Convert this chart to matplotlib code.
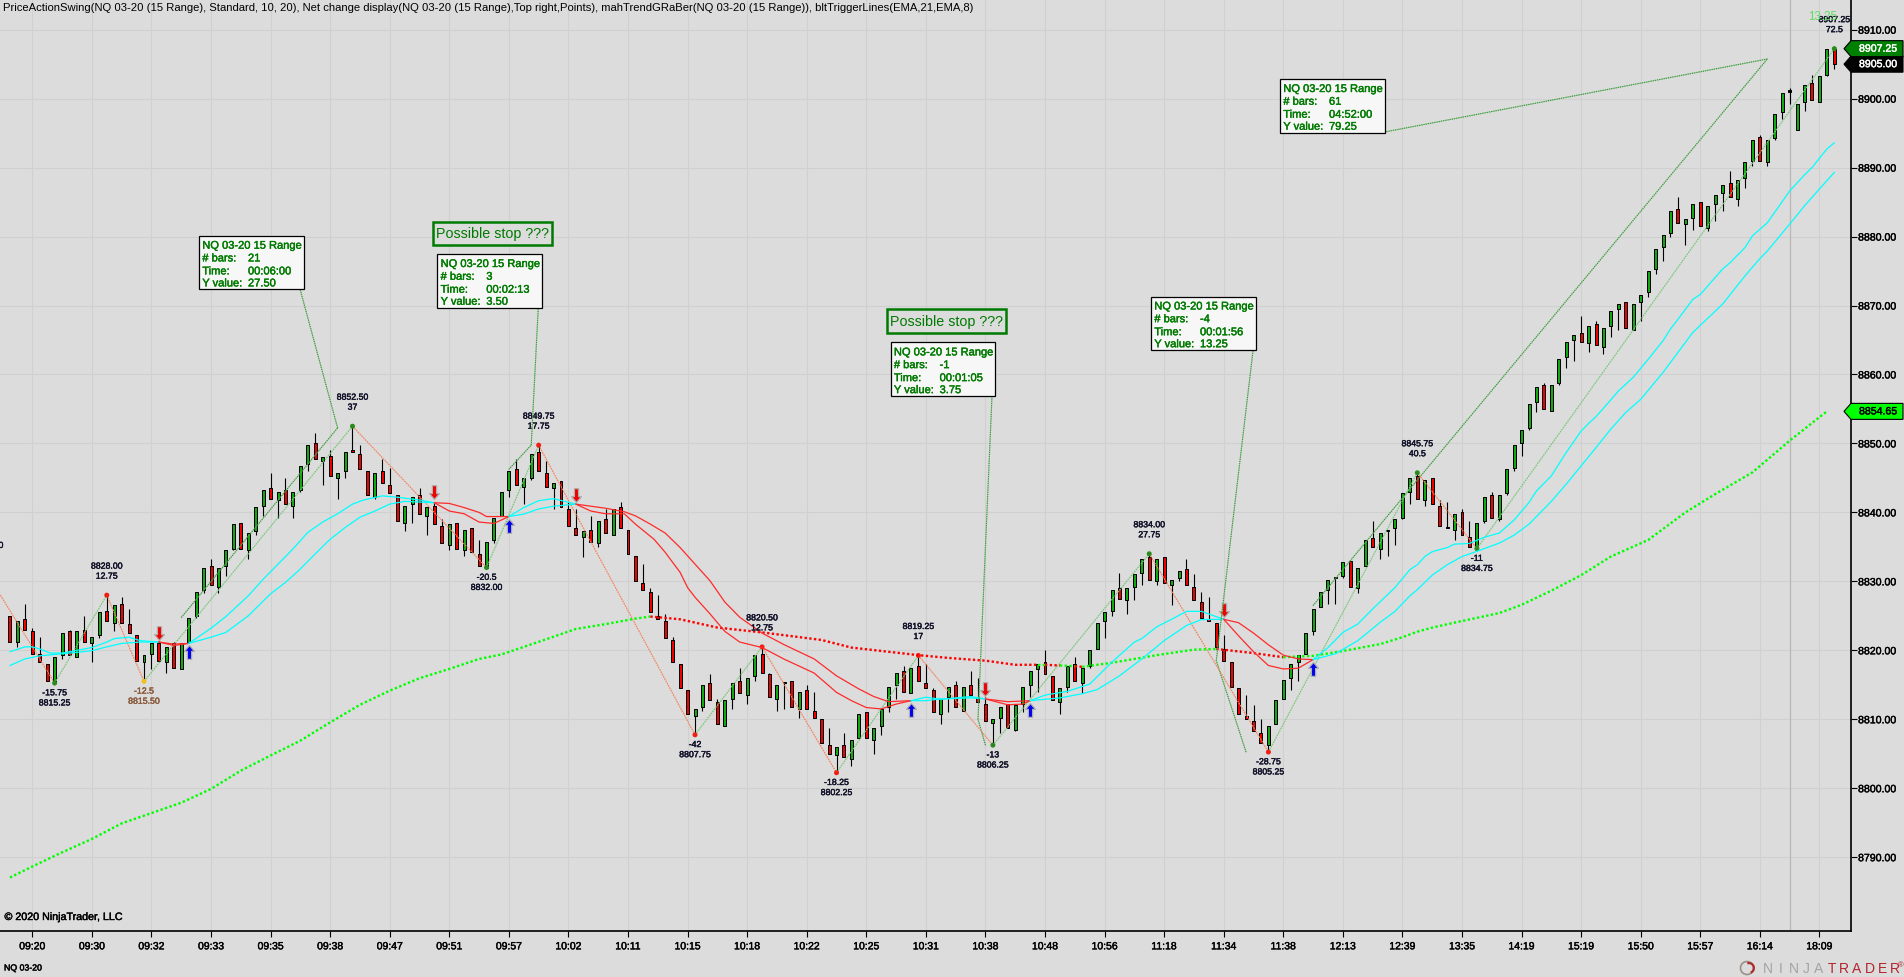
import numpy as np
import matplotlib
matplotlib.use("Agg")
import matplotlib.pyplot as plt
import matplotlib.patheffects as pe
from matplotlib.path import Path
from matplotlib.patches import Rectangle, Polygon, Circle, Wedge

plt.rcParams['font.family'] = ['Liberation Sans', 'DejaVu Sans']

# candles, one entry per range bar, first bar is -3 on the bar counter
open_prices = [
    8825, 8821.25, 8824.5, 8822.75, 8819.5, 8818, 8815.25, 8819.25, 8822.75, 8819,
    8823, 8821, 8822.25, 8825.75, 8824, 8826.75, 8823.75, 8822.25, 8818.25, 8819.5,
    8821, 8818.25, 8821, 8817.25, 8821.25, 8825, 8828.75, 8832.25, 8829.25, 8832.25,
    8834.75, 8838.5, 8834.5, 8837.25, 8841, 8843.5, 8841.75, 8843.25, 8841, 8843.25,
    8847, 8850, 8847.5, 8848.25, 8845, 8846, 8849, 8848.5, 8846, 8842.25,
    8846, 8844, 8842.5, 8838.5, 8841.25, 8842.5, 8839.5, 8841, 8838, 8835.25,
    8838.5, 8834.5, 8837.75, 8834, 8832, 8836, 8839.5, 8843.25, 8846.25, 8843.75,
    8845, 8848.75, 8845.75, 8843.5, 8844.5, 8840.5, 8837.75, 8836.5, 8837.5, 8835.5,
    8839, 8836.75, 8840.75, 8837.5, 8833.75, 8829.75, 8828.5, 8825, 8824.25, 8821.5,
    8818, 8814.25, 8810.5, 8811.75, 8815.25, 8812.5, 8809, 8813, 8815.5, 8813.5,
    8816.25, 8819.5, 8816.5, 8813, 8815.25, 8815.5, 8811.5, 8814.25, 8811.25, 8810,
    8806.25, 8804.75, 8806.25, 8804.25, 8807.25, 8811, 8807, 8809, 8811.75, 8815,
    8817, 8813.75, 8817.75, 8815.25, 8814.25, 8810.75, 8813.25, 8815, 8811.25, 8815,
    8813.25, 8812.25, 8809.5, 8810.25, 8812.25, 8808.5, 8812.25, 8815, 8817.25, 8818.25,
    8816.25, 8812.5, 8814.75, 8818, 8815.25, 8817.75, 8820.25, 8824.25, 8825.75, 8829,
    8827.25, 8829.25, 8831.25, 8833.5, 8830, 8833.5, 8829.5, 8830.5, 8831.75, 8829.25,
    8827, 8824.5, 8824, 8820.25, 8818.25, 8814.5, 8810.5, 8809.75, 8808, 8806.25,
    8809.25, 8813, 8816, 8818.25, 8819.5, 8822.75, 8826.25, 8828.75, 8830.5, 8830.75,
    8833, 8829, 8832.25, 8836.25, 8834.75, 8837.25, 8837.75, 8839.25, 8843, 8845.25,
    8841.75, 8845, 8841, 8837.75, 8837.5, 8840, 8836.5, 8835, 8838.75, 8842.5,
    8839, 8842.75, 8846.5, 8850, 8852.25, 8856, 8858.5, 8854.75, 8858.75, 8862.5,
    8865, 8866, 8864.5, 8867.25, 8864, 8867, 8869.5, 8870.5, 8866.5, 8870.5,
    8872, 8875.25, 8878.5, 8880.5, 8884, 8881.75, 8882.75, 8885, 8881.25, 8884.75,
    8886.25, 8887.75, 8885.5, 8888.5, 8891, 8894.5, 8890.75, 8894.25, 8898, 8901,
    8895.5, 8899.5, 8902.25, 8899.5, 8903.5, 8907.25,
]
high_prices = [
    8825, 8824.25, 8826.75, 8823.25, 8822, 8818, 8819, 8822.5, 8823, 8822.75,
    8825, 8822, 8825.5, 8828, 8826.5, 8827.75, 8826, 8822.25, 8819.25, 8821,
    8821.5, 8820.5, 8821.25, 8821, 8824.75, 8828.5, 8832, 8833.25, 8832, 8834.5,
    8838.25, 8838.5, 8837, 8840.75, 8843.25, 8845.75, 8843, 8845, 8843, 8846.75,
    8849.75, 8851.5, 8848, 8849, 8845.75, 8848.75, 8852.5, 8849.75, 8846, 8845.75,
    8847.75, 8846.5, 8842.5, 8841, 8842.25, 8843.5, 8840.75, 8841.5, 8839, 8838.25,
    8838.5, 8837.5, 8837.75, 8836, 8835.75, 8839.25, 8843, 8846, 8847.75, 8845,
    8848.5, 8849.75, 8847.5, 8844.25, 8844.5, 8841.5, 8840.5, 8837.25, 8839.5, 8838.75,
    8840.5, 8840.5, 8841.5, 8837.5, 8833.75, 8832.5, 8829, 8828, 8825.25, 8822,
    8818, 8814.25, 8811.5, 8815, 8816.5, 8813, 8812.75, 8815.25, 8817.5, 8816,
    8819.25, 8820.5, 8816.75, 8815, 8815.25, 8815.5, 8814, 8815, 8814, 8810,
    8808.75, 8806, 8808, 8807, 8810.75, 8811, 8808.75, 8811.5, 8814.75, 8816.75,
    8817.75, 8817.5, 8819.25, 8818, 8814.5, 8813, 8814.75, 8815.5, 8814.75, 8817,
    8816, 8813.25, 8810, 8811.75, 8812.25, 8812, 8814.75, 8817, 8818, 8820,
    8816.25, 8814.5, 8817.75, 8819, 8817.5, 8820, 8824, 8825.5, 8828.75, 8831.25,
    8829, 8831, 8833.25, 8834, 8833.25, 8833.5, 8830.25, 8831.5, 8833.25, 8831,
    8828.5, 8827.75, 8824, 8822.25, 8818.25, 8814.5, 8813.5, 8812, 8810, 8809,
    8812.75, 8815.75, 8818, 8819.25, 8822.5, 8826, 8828.5, 8830.25, 8830.5, 8832.75,
    8833, 8832, 8836, 8838.75, 8837, 8837.5, 8839, 8842.75, 8845, 8845.75,
    8844.75, 8845, 8841.75, 8841.5, 8839.75, 8840.5, 8838.75, 8838.5, 8842.25, 8843,
    8842.5, 8846.25, 8849.75, 8852, 8855.75, 8858.25, 8858.75, 8858.5, 8862.25, 8864.75,
    8865.75, 8868.5, 8867, 8867.75, 8866.75, 8869.25, 8870.25, 8870.5, 8870.25, 8871.5,
    8875, 8878.25, 8880.25, 8883.75, 8885.75, 8882.5, 8884.75, 8885, 8884.5, 8886,
    8887.5, 8889.5, 8888.25, 8890.75, 8894, 8894.75, 8894, 8897.75, 8900.75, 8901.5,
    8899.25, 8902, 8903.5, 8903.25, 8907.25, 8907.25,
]
low_prices = [
    8821.25, 8820.5, 8823, 8819.5, 8818.25, 8815.5, 8815.25, 8818.75, 8819.25, 8819,
    8821.25, 8818.25, 8821.75, 8824.25, 8822.75, 8824, 8822.5, 8818.5, 8815.5, 8817.25,
    8818.5, 8816.75, 8817.5, 8817.25, 8821.25, 8824.75, 8828.25, 8829.5, 8828.25, 8830.75,
    8834.5, 8834.75, 8833.25, 8836.75, 8839.5, 8842, 8839.25, 8841.25, 8839.25, 8843,
    8846, 8847.75, 8844, 8845.25, 8842, 8845, 8848.75, 8846.25, 8842.5, 8842,
    8844.25, 8842.75, 8838.75, 8837.25, 8838.5, 8839.75, 8836.75, 8838.25, 8835.5, 8834.5,
    8834.75, 8833.75, 8834.25, 8832.25, 8832, 8835.5, 8839.5, 8842.25, 8844, 8841.25,
    8844.75, 8846, 8843.75, 8840.5, 8840.75, 8838, 8836.75, 8833.5, 8835.75, 8835,
    8837, 8836.75, 8837.75, 8834, 8830, 8828.75, 8825.5, 8824.5, 8821.75, 8818.25,
    8814.5, 8810.75, 8807.75, 8811.25, 8812.75, 8809.25, 8809, 8811.5, 8813.75, 8812.25,
    8815.5, 8816.75, 8813.25, 8811.25, 8811.5, 8811.75, 8810.25, 8811.5, 8810.25, 8806.5,
    8805, 8802.25, 8804.5, 8803.25, 8807.25, 8807.25, 8805, 8807.75, 8811, 8813,
    8814, 8813.75, 8815.5, 8814.5, 8811, 8809.25, 8811, 8811.75, 8811.25, 8813.5,
    8812.5, 8809.75, 8806.25, 8808, 8808.75, 8808.25, 8811, 8813.25, 8814, 8816.5,
    8812.75, 8810.75, 8814, 8815.5, 8813.75, 8817.5, 8820.25, 8821.75, 8825, 8827.5,
    8825.25, 8827.25, 8829.5, 8830.25, 8829.5, 8829.75, 8826.5, 8830, 8829.5, 8827.25,
    8824.75, 8824.25, 8820.5, 8818.5, 8814.75, 8810.75, 8810, 8808.25, 8806.5, 8805.25,
    8809.25, 8813, 8814.25, 8815.5, 8819.5, 8822.25, 8826.25, 8826.75, 8826.75, 8830.5,
    8829.25, 8828.25, 8832.25, 8835, 8833.25, 8833.75, 8835.25, 8839, 8841.25, 8842,
    8841, 8841.25, 8838, 8837.75, 8836, 8836.75, 8835, 8834.75, 8838.5, 8839.25,
    8838.75, 8842.5, 8846, 8848.25, 8852, 8854.5, 8855, 8854.75, 8858.5, 8861,
    8862, 8864.75, 8863.25, 8864.25, 8863, 8865.5, 8866.5, 8866.75, 8866.5, 8867.75,
    8871.25, 8874.5, 8876.5, 8880, 8882, 8878.75, 8881, 8881.5, 8880.75, 8882.25,
    8883.75, 8885.75, 8884.5, 8887, 8890.25, 8891, 8890.25, 8894, 8897, 8899.25,
    8895.5, 8898.25, 8899.75, 8899.5, 8903.25, 8904.25,
]
close_prices = [
    8821.25, 8824.25, 8823, 8819.5, 8818.25, 8815.5, 8819, 8822.5, 8819.25, 8822.75,
    8821.25, 8822, 8825.5, 8824.25, 8826.5, 8824, 8822.5, 8818.5, 8819.25, 8821,
    8818.5, 8820.5, 8817.5, 8821, 8824.75, 8828.5, 8832, 8829.5, 8832, 8834.5,
    8838.25, 8834.75, 8837, 8840.75, 8843.25, 8842, 8843, 8841.25, 8843, 8846.75,
    8849.75, 8847.75, 8848, 8845.25, 8845.75, 8848.75, 8848.75, 8846.25, 8842.5, 8845.75,
    8844.25, 8842.75, 8838.75, 8841, 8842.25, 8839.75, 8840.75, 8838.25, 8835.5, 8838.25,
    8834.75, 8837.5, 8834.25, 8832.25, 8835.75, 8839.25, 8843, 8846, 8844, 8845,
    8848.5, 8846, 8843.75, 8844.25, 8840.75, 8838, 8836.75, 8837.25, 8835.75, 8838.75,
    8837, 8840.5, 8837.75, 8834, 8830, 8828.75, 8825.5, 8824.5, 8821.75, 8818.25,
    8814.5, 8810.75, 8811.5, 8815, 8812.75, 8809.25, 8812.75, 8815.25, 8813.75, 8816,
    8819.25, 8816.75, 8813.25, 8815, 8815.25, 8811.75, 8814, 8811.5, 8810.25, 8806.5,
    8805, 8806, 8804.5, 8807, 8810.75, 8807.25, 8808.75, 8811.5, 8814.75, 8816.75,
    8814, 8817.5, 8815.5, 8814.5, 8811, 8813, 8814.75, 8811.75, 8814.75, 8813.5,
    8812.5, 8809.75, 8810, 8811.75, 8808.75, 8812, 8814.75, 8817, 8818, 8816.5,
    8812.75, 8814.5, 8817.75, 8815.5, 8817.5, 8820, 8824, 8825.5, 8828.75, 8827.5,
    8829, 8831, 8833.25, 8830.25, 8833.25, 8829.75, 8830.25, 8831.5, 8829.5, 8827.25,
    8824.75, 8824.25, 8820.5, 8818.5, 8814.75, 8810.75, 8810, 8808.25, 8806.5, 8809,
    8812.75, 8815.75, 8818, 8819.25, 8822.5, 8826, 8828.5, 8830.25, 8830.5, 8832.75,
    8829.25, 8832, 8836, 8835, 8837, 8837.5, 8839, 8842.75, 8845, 8842,
    8844.75, 8841.25, 8838, 8837.75, 8839.75, 8836.75, 8835, 8838.5, 8842.25, 8839.25,
    8842.5, 8846.25, 8849.75, 8852, 8855.75, 8858.25, 8855, 8858.5, 8862.25, 8864.75,
    8865.75, 8864.75, 8867, 8864.25, 8866.75, 8869.25, 8870.25, 8866.75, 8870.25, 8871.5,
    8875, 8878.25, 8880.25, 8883.75, 8882, 8882.5, 8884.75, 8881.5, 8884.5, 8886,
    8887.5, 8885.75, 8888.25, 8890.75, 8894, 8891, 8894, 8897.75, 8900.75, 8901,
    8899.25, 8902, 8899.75, 8903.25, 8907.25, 8905,
]

x_labels = ["09:20", "09:30", "09:32", "09:33", "09:35", "09:38", "09:47", "09:51",
            "09:57", "10:02", "10:11", "10:15", "10:18", "10:22", "10:25", "10:31",
            "10:38", "10:48", "10:56", "11:18", "11:34", "11:38", "12:13", "12:39",
            "13:35", "14:19", "15:19", "15:50", "15:57", "16:14", "18:09"]
y_ticks = list(range(8790, 8911, 10))

# trigger lines, read at a handful of bars
fast_bars = [-3, -1, 0, 1, 2.4, 4, 6, 8, 10, 11, 13, 14.5, 17, 19, 21, 22.5, 24, 26, 29, 31,
             33, 35, 37, 39, 41, 43, 44.5, 47, 49, 52, 54, 56, 58, 60, 62, 64, 66, 68, 70, 73,
             75, 77, 79.5, 81, 83.5, 85, 87, 88, 89, 91, 93, 95, 98, 101, 105, 108, 110, 112,
             114, 116, 118, 120, 122, 126, 128, 131, 133, 134, 136, 139, 142, 145, 148, 149,
             151, 153, 155, 157, 160, 162, 164, 166, 168, 170, 172, 174, 176, 178, 180, 183,
             185, 186, 187, 188, 190, 191, 193, 195, 197, 199, 201, 202, 204, 206, 208, 209,
             210, 211, 213, 215, 217, 219, 220, 221, 223, 224, 227, 228, 230, 231, 233, 236,
             238, 239, 241, 242]
fast_vals = [8819.8, 8820.5, 8820.5, 8820.2, 8819.6, 8819.6, 8820, 8820.4, 8821.2, 8821.7,
             8821.9, 8821.4, 8821.2, 8820.7, 8821, 8822.1, 8823.2, 8824.9, 8827.9, 8830.3,
             8832.5, 8834.7, 8837.1, 8838.6, 8839.8, 8841.2, 8841.8, 8842.4, 8842.2, 8841.8,
             8841.4, 8840.2, 8839.8, 8838.6, 8838.4, 8839.4, 8840.7, 8841.7, 8842, 8841.2,
             8840.2, 8839.8, 8839.8, 8838.3, 8836.1, 8834.2, 8831.3, 8829.1, 8827.7, 8825.3,
             8822.75, 8821.2, 8820.4, 8818.7, 8816.7, 8813.9, 8812.7, 8811.7, 8811.5, 8812.2,
             8812.7, 8813.2, 8812.9, 8813.3, 8812.95, 8812.1, 8812.2, 8812.7, 8813.5, 8814.05,
             8815.1, 8818.3, 8821.2, 8821.7, 8823.4, 8824.5, 8825.65, 8825.65, 8824.5, 8822.1,
             8819.8, 8817.8, 8817.3, 8817.4, 8818.65, 8820.4, 8822.6, 8823.8, 8826, 8829.1,
             8831.7, 8832.4, 8833.6, 8834.3, 8834.9, 8835.4, 8835.5, 8836.4, 8837, 8838.9,
             8841.45, 8843.1, 8845.3, 8848.7, 8851.8, 8852.9, 8853.9, 8855.1, 8857.6, 8859.6,
             8862.2, 8864.9, 8866.6, 8868, 8870.9, 8871.6, 8875.3, 8876.2, 8878.4, 8880.1,
             8882, 8886.6, 8888.95, 8890, 8892.7, 8893.6]
slow_bars = [-3, -1, 1, 3, 6, 8, 10, 12, 14.5, 17, 19, 21, 24, 26, 29, 32, 34, 36, 38, 40,
             42, 44, 46, 48, 50, 54, 56, 58, 60, 61, 64, 66, 68, 70, 73, 77, 79.5, 81, 83, 85,
             87, 89, 91, 93, 95, 98, 101, 105, 108, 111, 113, 115, 118, 120, 122, 126, 128,
             131, 134, 138, 141, 143, 146, 149, 152, 155, 157, 160, 162, 164, 166, 168, 170,
             172, 175, 178, 181, 183, 185, 186, 188, 190, 192, 194, 197, 199, 201, 204, 206,
             208, 210, 212, 214, 216, 219, 220, 223, 227, 230, 232, 233, 236, 238, 240, 242]
slow_vals = [8817.8, 8818.75, 8819.2, 8819.4, 8819.7, 8819.95, 8820.5, 8821, 8821.2, 8821.2,
             8820.9, 8821, 8821.9, 8822.6, 8825, 8828.2, 8829.85, 8831.8, 8834, 8836.1,
             8837.8, 8839.3, 8840.2, 8841.2, 8841.6, 8841.4, 8841.3, 8840.7, 8840, 8839.4,
             8839.4, 8839.75, 8840.5, 8840.9, 8841.2, 8840.6, 8840.1, 8839.5, 8838.3, 8837,
             8834.9, 8832.5, 8830.1, 8827, 8824.8, 8822.5, 8820.8, 8818.75, 8816.3, 8814.4,
             8813.3, 8812.55, 8812.7, 8812.7, 8812.95, 8813.1, 8812.95, 8812.55, 8812.7, 8813.1,
             8813.7, 8814.3, 8816.3, 8818.75, 8821.4, 8823.6, 8824.45, 8824.5, 8824, 8822.5,
             8820.8, 8819.3, 8818.75, 8818.65, 8819.5, 8821.4, 8824.05, 8825.65, 8827.9, 8828.8,
             8830.9, 8832.4, 8833.6, 8834.35, 8835.55, 8836.7, 8838.3, 8841.6, 8844.1, 8846.75,
             8849.4, 8852.1, 8854.5, 8856.4, 8860.3, 8861.75, 8866.1, 8870.2, 8874.3, 8876.8,
             8877.9, 8881.8, 8884.45, 8886.9, 8889.3]
trigger_switches = [-3, 17, 21, 54, 64, 73, 118, 128, 134, 160, 172, 242]

# long dotted average
avg_bars = [-3, 0, 4, 8, 12, 16, 20, 24, 28, 32, 36, 40, 44, 48, 52, 56, 60, 63, 69, 73,
            77, 81, 83, 87, 92, 98, 106, 110, 119,
            123, 128, 132, 135, 136, 138, 140, 141, 145, 151, 156, 159, 164, 168, 172, 176,
            181, 184, 186, 188, 192, 197, 200, 204, 208, 212, 217, 222, 226, 231, 236, 241]
avg_vals = [8787.05, 8788.65, 8790.7, 8792.65, 8794.9, 8796.4, 8797.9, 8799.9, 8802.55, 8804.75,
            8806.9, 8809.55, 8812.1, 8814.15, 8815.95, 8817.3, 8818.75, 8819.4, 8821.6, 8823.1,
            8823.8, 8824.6, 8824.9, 8824.5, 8823.3, 8822.6, 8821.5, 8820.4, 8819.3,
            8818.9, 8818.5, 8817.9, 8817.9, 8817.9, 8817.8, 8817.7, 8817.6, 8818.2, 8819.3,
            8820.1, 8820.2, 8819.6, 8819, 8819.2, 8819.9, 8820.9, 8821.9, 8822.7, 8823.3,
            8824.25, 8825.4, 8826.6, 8828.65, 8830.9, 8833.6, 8836, 8840, 8842.65, 8845.8,
            8850.4, 8854.65]
avg_switches = [-3, 83, 135, 136, 138, 140, 141, 159, 168, 241]

# swing points and their two text lines
swing_bars = [-6, 3, 10, 15, 43, 61, 68, 89, 98, 108, 119, 129, 150, 166, 186, 194, 242]
swing_vals = [8831, 8815.25, 8828, 8815.5, 8852.5, 8832, 8849.75, 8807.75, 8820.5, 8802.25,
              8819.25, 8806.25, 8834, 8805.25, 8845.75, 8834.75, 8907.25]
swing_diffs = ["16.5", "-15.75", "12.75", "-12.5", "37", "-20.5", "17.75", "-42", "12.75",
               "-18.25", "17", "-13", "27.75", "-28.75", "40.5", "-11", "72.5"]
swing_dots = ["red", "green", "red", "gold", "green", "green", "red", "red", "red", "red",
              "red", "green", "green", "red", "green", "green", "green"]

down_arrow_bars = [17, 54, 73, 128, 160]
down_arrow_vals = [8821.55, 8841.9, 8841.45, 8813.4, 8824.9]
up_arrow_bars = [21, 64, 118, 134, 172]
up_arrow_vals = [8820.7, 8839, 8812.4, 8812.3, 8818.35]

# measuring rulers: bars and prices of both ends
ruler_bars = [(20, 41), (64, 67), (128, 127), (163, 159), (172, 233)]
ruler_vals = [(8824.75, 8852.25), (8846.25, 8849.75), (8806.25, 8810), (8805.25, 8818.5),
              (8826.5, 8905.75)]
ruler_counts = ["21", "3", "-1", "-4", "61"]
ruler_times = ["00:06:00", "00:02:13", "00:01:05", "00:01:56", "04:52:00"]
ruler_ys = ["27.50", "3.50", "3.75", "13.25", "79.25"]

W, H = 1904, 978
BG = "#dcdcdc"
UP = "#12a812"
DOWN = "#ec0000"
SWING_DOWN = "#f5835c"
SWING_UP = "#78c878"
RULER = "#3a8f3a"
BOX_TEXT = "#007a00"


def heavy(color):
    # the original text is drawn with ClearType and looks a bit fatter
    return [pe.withStroke(linewidth=0.3, foreground=color)]


fig = plt.figure(figsize=(W / 100, H / 100), dpi=100, facecolor=BG)
ax = fig.add_axes([0, (H - 931.5) / H, 1850.7 / W, 931.5 / H], facecolor=BG)
ax.set_xlim(-4.338, 244.2)
ax.set_ylim(8779.37, 8914.45)

over = fig.add_axes([0, 0, 1, 1], zorder=5)
over.set_xlim(0, W)
over.set_ylim(H, 0)
over.axis('off')

for side in ['top', 'left']:
    ax.spines[side].set_visible(False)
for side in ['right', 'bottom']:
    ax.spines[side].set_linewidth(1.2)

ax.yaxis.tick_right()
ax.set_xticks(np.arange(len(x_labels)) * 8)
ax.set_xticklabels(x_labels, fontsize=7.5, path_effects=heavy("black"))
ax.set_yticks(y_ticks)
ax.set_yticklabels([f"{v:.2f}" for v in y_ticks], fontsize=7.6, path_effects=heavy("black"))
ax.tick_params(axis='both', length=4.3, width=0.8)
ax.tick_params(axis='x', pad=3.5)
ax.tick_params(axis='y', pad=1.0)
ax.grid(True, color="#d0d0d0", linewidth=0.8, zorder=0)
ax.set_axisbelow(True)
ax.axvline(236, color="#bababa", linewidth=1, zorder=1)

# candles
bars = np.arange(-3, -3 + len(open_prices))
opens = np.array(open_prices)
closes = np.array(close_prices)
colors = [UP if c > o else (DOWN if c < o else "black") for o, c in zip(opens, closes)]
ax.vlines(bars, low_prices, high_prices, color="black", linewidth=0.8, zorder=3)
body = np.maximum(np.abs(closes - opens), 0.2)
ax.bar(bars, body, bottom=np.minimum(opens, closes), width=0.4, color=colors,
       edgecolor="black", linewidth=0.72, zorder=3.2)

# swing lines
for i in range(len(swing_bars) - 1):
    going_up = swing_vals[i + 1] > swing_vals[i]
    ax.plot(swing_bars[i:i + 2], swing_vals[i:i + 2], color=SWING_UP if going_up else SWING_DOWN,
            linewidth=0.85, linestyle=(0, (1.5, 0.7)), zorder=3.5)
dot_colors = {"red": "#f01e14", "green": "#2a8a1e", "gold": "#f0c020"}
ax.scatter(swing_bars, swing_vals, s=13, c=[dot_colors[d] for d in swing_dots], zorder=4, linewidths=0)

# trigger lines change colour with the trend
for series_x, series_y in [(fast_bars, fast_vals), (slow_bars, slow_vals)]:
    xs = np.array(series_x)
    ys = np.array(series_y)
    for k in range(len(trigger_switches) - 1):
        a, b = trigger_switches[k], trigger_switches[k + 1]
        mask = (xs >= a) & (xs <= b)
        ax.plot(xs[mask], ys[mask], color="#00ffff" if k % 2 == 0 else "#ff2a2a", linewidth=0.9, zorder=4.2)

xs = np.array(avg_bars)
ys = np.array(avg_vals)
for k in range(len(avg_switches) - 1):
    a, b = avg_switches[k], avg_switches[k + 1]
    mask = (xs >= a) & (xs <= b)
    ax.plot(xs[mask], ys[mask], color="#00ff00" if k % 2 == 0 else "#ff0000", linewidth=1.7,
            linestyle=(0, (1, 1)), dash_capstyle='butt', zorder=4.1)

# arrows, the tip of the path sits on the value
up_path = Path([(0, 0), (0.72, -0.85), (0.3, -0.85), (0.3, -2), (-0.3, -2), (-0.3, -0.85),
                (-0.72, -0.85), (0, 0)], closed=True)
down_path = Path([(0, 0), (0.72, 0.85), (0.3, 0.85), (0.3, 2), (-0.3, 2), (-0.3, 0.85),
                  (-0.72, 0.85), (0, 0)], closed=True)
ax.plot(down_arrow_bars, down_arrow_vals, linestyle='none', marker=down_path, markersize=20,
        markerfacecolor="#f00000", markeredgecolor="#b0b0b0", markeredgewidth=0.9, zorder=5)
ax.plot(up_arrow_bars, up_arrow_vals, linestyle='none', marker=up_path, markersize=20,
        markerfacecolor="#0000f0", markeredgecolor="#b0b0b0", markeredgewidth=0.9, zorder=5)

# swing texts
for b, v, d in zip(swing_bars, swing_vals, swing_diffs):
    is_high = d[0] != "-"
    price = f"{v:.2f}"
    first, second = (price, d) if is_high else (d, price)
    off1, off2 = (20.9, 13.7) if is_high else (-7, -14.3)
    col = "#8a5a3c" if b == 15 else "#101028"
    for txt, off in [(first, off1), (second, off2)]:
        ax.annotate(txt, (b, v), xytext=(0, off), textcoords='offset points', ha='center',
                    va='center', fontsize=6.3, color=col, annotation_clip=False, clip_on=True,
                    zorder=6, path_effects=heavy(col))


def to_px(bar, val):
    return over.transData.inverted().transform(ax.transData.transform((bar, val)))


# rulers with their info boxes
box_lefts = [199, 437.3, 890.6, 1151, 1280]
box_tops = [236.7, 255, 343.4, 297.5, 80]
text_ends = [(300, 290), (538.3, 308), (992, 397), (1253, 352), (1382, 133.5)]
for i in range(len(ruler_bars)):
    ax.plot(ruler_bars[i], ruler_vals[i], color=SWING_UP, linewidth=0.8, alpha=0.55, zorder=3.4)
    ax.plot(ruler_bars[i], ruler_vals[i], color=RULER, linewidth=0.8, linestyle=(0, (1, 1)), zorder=3.4)
    start = to_px(ruler_bars[i][1], ruler_vals[i][1])
    end = text_ends[i]
    over.plot([start[0], end[0]], [start[1], end[1]], color=SWING_UP, linewidth=0.8, alpha=0.55, zorder=1)
    over.plot([start[0], end[0]], [start[1], end[1]], color=RULER, linewidth=0.8, linestyle=(0, (1, 1)), zorder=1)
    left, top = box_lefts[i], box_tops[i]
    over.add_patch(Rectangle((left, top), 104.7, 53.6, facecolor="#f7f7f7", edgecolor="black",
                             linewidth=0.9, zorder=2))
    rows = [("NQ 03-20 15 Range", ""), ("# bars:", ruler_counts[i]),
            ("Time:", ruler_times[i]), ("Y value:", ruler_ys[i])]
    for row, row_y in zip(rows, [10, 22.7, 35.7, 47.7]):
        over.text(left + 3.3, top + row_y, row[0], fontsize=8.0, color=BOX_TEXT, va='center', zorder=3,
                  path_effects=heavy(BOX_TEXT))
        if row[1]:
            over.text(left + 49, top + row_y, row[1], fontsize=8.0, color=BOX_TEXT, va='center', zorder=3,
                      path_effects=heavy(BOX_TEXT))

for left, top, width, height in [(433.3, 222.7, 118.4, 23.3), (887.3, 310, 118.7, 24)]:
    over.add_patch(Rectangle((left, top), width, height, facecolor=BG, edgecolor="#007a00",
                             linewidth=1.8, zorder=2))
    over.text(left + width / 2, top + height / 2, "Possible stop ???", fontsize=10.3, color=BOX_TEXT,
              ha='center', va='center', zorder=3)


# price tags on the axis
def price_tag(value, face, text_color):
    yc = to_px(0, value)[1]
    over.add_patch(Polygon([(1844, yc), (1851, yc - 8), (1903, yc - 8), (1903, yc + 8), (1851, yc + 8)],
                           closed=True, facecolor=face, edgecolor="black", linewidth=0.8, zorder=3))
    over.text(1859, yc, f"{value:.2f}", fontsize=7.6, color=text_color, va='center', zorder=4,
              path_effects=heavy(text_color))


price_tag(8854.65, "#00ff00", "black")
price_tag(8905.0, "black", "white")
price_tag(8907.25, "#008000", "white")

# header and footer texts
over.text(3, 8, "PriceActionSwing(NQ 03-20 (15 Range), Standard, 10, 20), Net change display(NQ 03-20 (15 Range),"
                "Top right,Points), mahTrendGRaBer(NQ 03-20 (15 Range)), bltTriggerLines(EMA,21,EMA,8)",
          fontsize=8.1, color="black", va='center')
over.text(4.5, 918, "\u00a9 2020 NinjaTrader, LLC", fontsize=7.7, color="black", va='center',
          path_effects=heavy("black"))
over.text(4, 969, "NQ 03-20", fontsize=6.3, color="black", va='center', path_effects=heavy("black"))
over.text(1822.7, 16.7, "13.25", fontsize=8.4, color="#5fdc5f", ha='center', va='center')

# logo
over.add_patch(Circle((1747, 969), 6.5, facecolor="none", edgecolor="#9a8f8a", linewidth=1.2))
over.add_patch(Wedge((1749, 969), 6, 250, 70, width=2.2, facecolor="#b02a2a", edgecolor="none"))
for n, ch in enumerate("NINJATRADER"):
    over.text(1768 + n * 12.7, 969, ch, fontsize=10, color="#a4a4a4" if n < 5 else "#b0262c",
              ha='center', va='center')
over.text(1901, 966, "\u00ae", fontsize=5.5, color="#b0262c", ha='center', va='center')

fig.savefig("out.png", dpi=100, facecolor=BG)
